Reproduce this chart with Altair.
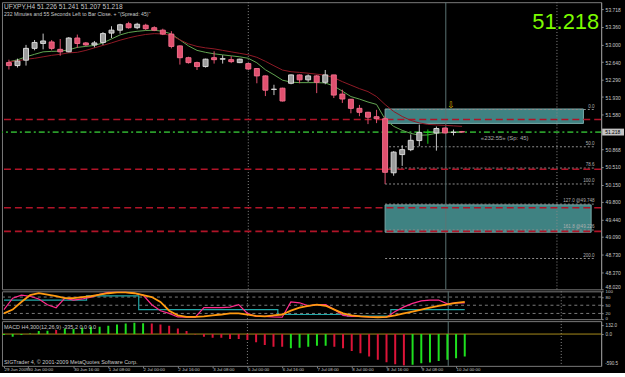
import altair as alt
import pandas as pd
import numpy as np

# ---------------- data ----------------
candle_open = [52.63, 52.57, 52.68, 52.92, 53.02, 53.05, 52.90, 52.85, 53.13, 53.03,
               52.99, 53.04, 53.23, 53.29, 53.42, 53.34, 53.39, 53.34, 53.29, 53.21,
               52.97, 52.73, 52.63, 52.55, 52.73, 52.70, 52.69, 52.63, 52.61, 52.51,
               52.36, 52.085, 52.11, 52.21, 52.38, 52.28, 52.36, 52.23, 52.38, 51.99,
               51.885, 51.70, 51.62, 51.53, 51.49, 50.39, 50.76, 50.86, 51.045, 51.21,
               51.20, 51.30, 51.21, 51.226]
candle_high = [52.69, 52.71, 52.99, 53.09, 53.22, 53.09, 53.11, 53.15, 53.20, 53.05,
               53.07, 53.25, 53.37, 53.42, 53.46, 53.44, 53.42, 53.37, 53.32, 53.27,
               52.98, 52.75, 52.65, 52.71, 52.86, 52.78, 52.76, 52.71, 52.62, 52.52,
               52.37, 52.18, 52.12, 52.39, 52.39, 52.39, 52.38, 52.48, 52.38, 52.08,
               51.89, 51.77, 51.63, 51.67, 51.54, 50.83, 50.95, 51.17, 51.37, 51.27,
               51.33, 51.31, 51.27, 51.241]
candle_low = [52.49, 52.53, 52.57, 52.88, 52.90, 52.88, 52.77, 52.84, 52.93, 52.97,
              52.94, 52.99, 53.13, 53.22, 53.32, 53.31, 53.29, 53.27, 53.19, 52.92,
              52.59, 52.61, 52.48, 52.53, 52.61, 52.61, 52.62, 52.62, 52.48, 52.21,
              51.95, 51.97, 51.84, 52.19, 52.21, 52.24, 52.01, 52.19, 51.91, 51.81,
              51.60, 51.54, 51.38, 51.40, 50.16, 50.33, 50.53, 50.83, 50.93, 50.98,
              50.84, 51.19, 51.15, 51.207]
candle_close = [52.57, 52.66, 52.92, 53.04, 53.07, 52.92, 52.85, 53.13, 53.02, 52.99,
                53.03, 53.22, 53.29, 53.40, 53.34, 53.41, 53.32, 53.29, 53.21, 52.96,
                52.73, 52.63, 52.55, 52.70, 52.69, 52.71, 52.65, 52.70, 52.50, 52.36,
                52.07, 52.09, 51.85, 52.38, 52.28, 52.36, 52.23, 52.38, 51.97, 51.89,
                51.70, 51.62, 51.52, 51.49, 50.40, 50.81, 50.86, 51.05, 51.21, 51.22,
                51.29, 51.20, 51.215, 51.218]
green_candles = [49]

ma_fast = [52.647, 52.687, 52.748, 52.799, 52.849, 52.859, 52.863, 52.890, 52.940, 52.960,
           52.980, 53.031, 53.112, 53.193, 53.243, 53.267, 53.283, 53.288, 53.267, 53.213,
           53.092, 52.970, 52.879, 52.839, 52.809, 52.788, 52.768, 52.748, 52.718, 52.627,
           52.485, 52.384, 52.273, 52.233, 52.223, 52.223, 52.223, 52.217, 52.152, 52.051,
           51.940, 51.889, 51.829, 51.780, 51.480, 51.334, 51.253, 51.192, 51.152, 51.160,
           51.192, 51.212, 51.218, 51.212]
ma_slow = [52.647, 52.667, 52.698, 52.718, 52.748, 52.778, 52.799, 52.829, 52.839, 52.879,
           52.930, 52.980, 53.031, 53.086, 53.132, 53.172, 53.203, 53.219, 53.213, 53.183,
           53.092, 53.011, 52.960, 52.930, 52.910, 52.879, 52.849, 52.819, 52.789, 52.738,
           52.657, 52.566, 52.479, 52.445, 52.431, 52.415, 52.395, 52.374, 52.324, 52.243,
           52.172, 52.101, 52.041, 51.940, 51.778, 51.637, 51.536, 51.455, 51.404, 51.374,
           51.364, 51.354, 51.344, 51.334]

stoch_k = [34, 76, 87, 83, 73, 52, 41, 76, 69, 73, 80, 90, 97, 97, 97, 94, 87, 52, 30, 20,
           7, 6, 6, 41, 41, 41, 43, 52, 20, 9, 9, 7, 6, 62, 59, 48, 52, 52, 34, 13,
           9, 9, 7, 6, 6, 27, 44, 57, 66, 69, 69, 55, 59, 59]
stoch_d = [20, 34, 62, 87, 94, 89, 83, 76, 76, 80, 83, 89, 94, 97, 97, 94, 87, 80, 62, 30,
           13, 7, 7, 9, 13, 16, 20, 20, 16, 11, 9, 13, 16, 30, 41, 48, 52, 48, 34, 20,
           13, 9, 7, 6, 7, 13, 20, 27, 34, 41, 48, 53, 59, 62]
stoch_step = [69] * 10 + [84] * 6 + [34] * 16 + [16] * 8 + [10] * 5 + [34] * 9

macd_hist = [-15, -40, -15, 10, 44, 49, 59, 84, 74, 93, 108, 108, 123, 143, 158, 167, 161,
             158, 143, 123, 84, 44, -5, -40, -55, -55, -74, -74, -89, -123, -162, -188,
             -188, -211, -202, -188, -173, -173, -188, -211, -251, -285, -335, -384, -418,
             -448, -468, -458, -433, -424, -399, -384, -359, -335.2]
macd_dir = ["g", "g", "g", "g", "g", "g", "r", "g", "g", "g", "g", "g", "g", "g", "g", "g",
            "g", "r", "r", "r", "r", "r", "r", "r", "r", "r", "r", "r", "r", "r", "r", "r",
            "r", "g", "g", "g", "g", "g", "r", "r", "r", "r", "r", "r", "r", "r", "r", "g",
            "g", "g", "g", "g", "g", "g"]

price_ticks = [53.718, 53.360, 53.000, 52.640, 52.290, 51.930, 51.580, 50.868, 50.510,
               50.150, 49.800, 49.440, 49.090, 48.730, 48.370, 48.020]
last_price = 51.218

time_tick_idx = [0, 2.7, 8, 12, 16, 20, 24, 28, 32, 36, 40, 44, 48, 52]
time_labels = ["29 Jun 2009", "30 Jun 00:00", "30 Jun 16:00", "1 Jul 08:00", "2 Jul 00:00",
               "2 Jul 16:00", "3 Jul 08:00", "6 Jul 00:00", "6 Jul 16:00", "7 Jul 08:00",
               "8 Jul 00:00", "8 Jul 16:00", "9 Jul 08:00", "10 Jul 00:00"]

fib_labels = ["0.0", "50.0", "78.6", "100.0", "127.0 @49.748", "161.8 @49.226", "200.0"]
fib_prices = [51.677, 50.919, 50.486, 50.162, 49.753, 49.226, 48.647]
fib_start, fib_end = 44, 68.5

zone_top = [51.687, 49.737]
zone_bottom = [51.394, 49.182]
zone_start = [44, 44]
zone_end = [67.2, 68.1]

red_levels = [51.475, 50.462, 49.680, 49.198]
vlines_dotted = [28, 64.1]
vlines_solid = [51.1]

header_1 = "UFXPY,H4  51.226  51.241  51.207  51.218"
header_2 = "232 Minutes and 55 Seconds Left to Bar Close. + ''(Spread: 45)''"
timer_text = "«232:55» (Sp: 45)"
macd_title = "MACD H4,300(12,26,9) -335.2 0.0 0.0"
copyright_text = "SIGTrader 4, © 2001-2009 MetaQuotes Software Corp."

# ---------------- styling ----------------
W = 603
FONT = "Liberation Sans"
TXT = "#c8c8c8"
BULL_FILL, BULL_LINE = "#9c9c9c", "#d8d8d8"
BEAR_FILL, BEAR_LINE = "#e0506e", "#f06c8a"
MARK_GREEN = "#18d018"

n = len(candle_open)
df = pd.DataFrame({"i": range(n), "o": candle_open, "h": candle_high,
                   "l": candle_low, "c": candle_close})
up = df["c"] >= df["o"]
df["fill"] = np.where(up, BULL_FILL, BEAR_FILL)
df["line"] = np.where(up, BULL_LINE, BEAR_LINE)
df["wick"] = np.where(up, "#c8c8c8", BEAR_FILL)
for k in green_candles:
    df.loc[k, ["fill", "line", "wick"]] = MARK_GREEN

ma = pd.DataFrame({"i": list(range(n)) * 2, "v": ma_fast + ma_slow,
                   "s": ["fast"] * n + ["slow"] * n})

xs = alt.Scale(domain=[-0.23, 68.69], nice=False, zero=False)
ps = alt.Scale(domain=[48.02, 53.859], nice=False, zero=False)

ax_price = alt.Axis(orient="right", values=price_ticks, format=".3f", title=None,
                    labelFontSize=5, labelFont=FONT, labelColor=TXT, tickSize=2,
                    tickColor="#909090", domainColor="#909090", grid=False,
                    labelPadding=2, labelOverlap=False, labelFlush=False,
                    labelBaseline={"condition": {"test": "datum.value < 48.1",
                                                 "value": "bottom"},
                                   "value": "middle"})

X = lambda f: alt.X(f, scale=xs, axis=None)
Y = lambda f: alt.Y(f, scale=ps, axis=ax_price)

zones = pd.DataFrame({"x0": zone_start, "x1": zone_end, "top": zone_top, "bot": zone_bottom})
fib = pd.DataFrame({"lab": fib_labels, "p": fib_prices, "x0": fib_start, "x1": fib_end})
reds = pd.DataFrame({"p": red_levels})
vd = pd.DataFrame({"x": vlines_dotted})
vs = pd.DataFrame({"x": vlines_solid})

zone_layer = alt.Chart(zones).mark_rect(fill="#3f8282", stroke="#78a8a8", strokeWidth=1,
                                         clip=True).encode(
    x=X("x0:Q"), x2="x1", y=Y("top:Q"), y2="bot")
fib_layer = alt.Chart(fib).mark_rule(color="#8c8c8c", strokeDash=[2, 2], clip=True).encode(
    x=X("x0:Q"), x2="x1", y=Y("p:Q"))
fib_text = alt.Chart(fib).mark_text(align="right", baseline="bottom", dy=-1, fontSize=4.6,
                                    font=FONT, color="#b0b0b0").encode(
    x=X("x1:Q"), y=Y("p:Q"), text="lab:N")
red_layer = alt.Chart(reds).mark_rule(color="#b01428", strokeWidth=1.6, strokeDash=[7, 4],
                                      clip=True).encode(y=Y("p:Q"))
bid_layer = alt.Chart(pd.DataFrame({"p": [last_price]})).mark_rule(
    color="#2a9a2a", strokeWidth=1.8, strokeDash=[6, 3, 2, 3], clip=True).encode(y=Y("p:Q"))
vdot = alt.Chart(vd).mark_rule(color="#8a8a8a", strokeDash=[1, 2]).encode(x=X("x:Q"))
vsol = alt.Chart(vs).mark_rule(color="#5c7474", strokeWidth=1).encode(x=X("x:Q"))
ma_layer = alt.Chart(ma).mark_line(strokeWidth=1, clip=True).encode(
    x=X("i:Q"), y=Y("v:Q"), detail="s:N",
    color=alt.Color("s:N", scale=alt.Scale(domain=["fast", "slow"],
                                           range=["#62a552", "#901a26"]), legend=None))
wick_layer = alt.Chart(df).mark_rule(strokeWidth=1, clip=True).encode(
    x=X("i:Q"), y=Y("l:Q"), y2="h", color=alt.Color("wick:N", scale=None))
body_layer = alt.Chart(df).mark_bar(size=5, strokeWidth=1, clip=True).encode(
    x=X("i:Q"), y=Y("o:Q"), y2="c", fill=alt.Fill("fill:N", scale=None),
    stroke=alt.Stroke("line:N", scale=None))
timer_layer = alt.Chart(pd.DataFrame({"t": [timer_text], "i": [55.2], "p": [51.10]})).mark_text(
    align="left", baseline="middle", fontSize=6, font=FONT, color="#a8a8a8").encode(
    x=X("i:Q"), y=Y("p:Q"), text="t:N")
arrow_layer = alt.Chart(pd.DataFrame({"t": ["⇩"], "i": [51.7], "p": [51.76]})).mark_text(
    fontSize=9, font="DejaVu Sans", color="#d8b400").encode(x=X("i:Q"), y=Y("p:Q"), text="t:N")
h1 = alt.Chart(pd.DataFrame({"t": [header_1]})).mark_text(
    align="left", baseline="alphabetic", fontSize=6.6, font=FONT, color=TXT).encode(
    x=alt.value(2), y=alt.value(7), text="t:N")
h2 = alt.Chart(pd.DataFrame({"t": [header_2]})).mark_text(
    align="left", baseline="alphabetic", fontSize=5.2, font=FONT, color=TXT).encode(
    x=alt.value(2), y=alt.value(14), text="t:N")
big = alt.Chart(pd.DataFrame({"t": [f"{last_price:.3f}"]})).mark_text(
    align="right", baseline="alphabetic", fontSize=22, font=FONT, color="#7cfc00").encode(
    x=alt.value(W - 2), y=alt.value(27), text="t:N")
pbox = alt.Chart(pd.DataFrame({"top": [last_price + 0.07], "bot": [last_price - 0.07]})).mark_rect(
    color="#c4c4c4", clip=False).encode(x=alt.value(W + 1), x2=alt.value(W + 23),
                                        y=Y("top:Q"), y2="bot")
ptxt = alt.Chart(pd.DataFrame({"t": [f"{last_price:.3f}"], "p": [last_price]})).mark_text(
    align="left", baseline="middle", fontSize=5, font=FONT, color="#000000").encode(
    x=alt.value(W + 4), y=Y("p:Q"), text="t:N")

price_panel = alt.layer(zone_layer, fib_layer, vdot, vsol, red_layer, bid_layer, ma_layer,
                        wick_layer, body_layer, fib_text, timer_layer, arrow_layer,
                        h1, h2, big, pbox, ptxt).properties(width=W, height=289)

# ---------------- stochastic panel ----------------
ss = alt.Scale(domain=[-1, 101], nice=False, zero=False)
ax_st = alt.Axis(orient="right", values=[100, 80, 50, 20, 0], title=None, labelFontSize=4.4,
                 labelFont=FONT, labelColor=TXT, tickSize=2, tickColor="#909090",
                 domainColor="#909090", grid=False, labelPadding=2, labelOverlap=False,
                 labelFlush=False)
YS = lambda f: alt.Y(f, scale=ss, axis=ax_st)
st = pd.DataFrame({"i": list(range(n)) * 3, "v": stoch_step + stoch_d + stoch_k,
                   "s": ["step"] * n + ["d"] * n + ["k"] * n})
lv = alt.Chart(pd.DataFrame({"v": [80, 50, 20]})).mark_rule(
    color="#7a7a7a", strokeDash=[3, 3]).encode(y=YS("v:Q"))
st_step = alt.Chart(st[st.s == "step"]).mark_line(interpolate="step", color="#22a8a8",
                                                  strokeWidth=1.2, clip=True).encode(
    x=X("i:Q"), y=YS("v:Q"))
st_d = alt.Chart(st[st.s == "d"]).mark_line(color="#ff9a10", strokeWidth=1.8,
                                           clip=True).encode(x=X("i:Q"), y=YS("v:Q"))
st_k = alt.Chart(st[st.s == "k"]).mark_line(color="#ff2a8c", strokeWidth=1.2,
                                           clip=True).encode(x=X("i:Q"), y=YS("v:Q"))
stoch_panel = alt.layer(lv, vdot, vsol, st_step, st_k, st_d).properties(width=W, height=28)

# ---------------- MACD panel ----------------
ms = alt.Scale(domain=[-473, 192], nice=False, zero=False)
ax_m = alt.Axis(orient="right", values=[132, 0], format=".1f", title=None, labelFontSize=4.6,
                labelFont=FONT, labelColor=TXT, tickSize=2, tickColor="#909090",
                domainColor="#909090", grid=False, labelPadding=2, labelOverlap=False,
                labelFlush=False)
lab_arr = "[" + ",".join(repr(s) for s in time_labels) + "]"
idx_arr = "[" + ",".join("%g" % v for v in time_tick_idx) + "]"
ax_time = alt.Axis(orient="bottom", values=time_tick_idx, title=None, grid=False, domain=False,
                   labelExpr=f"{lab_arr}[indexof({idx_arr}, datum.value)]",
                   labelAlign="left", labelBaseline="top", labelFontSize=4.4, labelFont=FONT,
                   labelColor=TXT, tickSize=2, tickColor="#808080", labelPadding=0,
                   labelOverlap=False, labelFlush=False)
XM = lambda f: alt.X(f, scale=xs, axis=ax_time)
YM = lambda f: alt.Y(f, scale=ms, axis=ax_m)
md = pd.DataFrame({"i": range(n), "v": macd_hist, "z": 0,
                   "col": ["#1ee01e" if d == "g" else "#dc1438" for d in macd_dir]})
zero_line = alt.Chart(pd.DataFrame({"v": [0]})).mark_rule(color="#a88c1c", strokeWidth=1).encode(
    y=YM("v:Q"))
bars = alt.Chart(md).mark_rule(strokeWidth=2, clip=True).encode(
    x=XM("i:Q"), y=YM("z:Q"), y2="v", color=alt.Color("col:N", scale=None))
vdot_m = alt.Chart(vd).mark_rule(color="#8a8a8a", strokeDash=[1, 2]).encode(x=XM("x:Q"))
vsol_m = alt.Chart(vs).mark_rule(color="#5c7474", strokeWidth=1).encode(x=XM("x:Q"))
mt = alt.Chart(pd.DataFrame({"t": [macd_title]})).mark_text(
    align="left", baseline="middle", fontSize=5.5, font=FONT, color=TXT).encode(
    x=alt.value(2), y=alt.value(6), text="t:N")
cp = alt.Chart(pd.DataFrame({"t": [copyright_text]})).mark_text(
    align="left", baseline="middle", fontSize=5.5, font=FONT, color=TXT).encode(
    x=alt.value(2), y=alt.value(41), text="t:N")
mlow = alt.Chart(pd.DataFrame({"t": ["-590.5"]})).mark_text(
    align="left", baseline="middle", fontSize=4.6, font=FONT, color=TXT).encode(
    x=alt.value(W + 4), y=alt.value(43), text="t:N")
macd_panel = alt.layer(vdot_m, vsol_m, zero_line, bars, mt, cp, mlow).properties(
    width=W, height=45)

chart = alt.vconcat(price_panel, stoch_panel, macd_panel, spacing=2, bounds="flush").properties(
    background="black", padding={"left": 1, "top": 0, "right": 0, "bottom": 0}
).configure_view(stroke="#7a7a7a", strokeWidth=1)

chart.save("out.html", embed_options={"renderer": "svg", "actions": False})
